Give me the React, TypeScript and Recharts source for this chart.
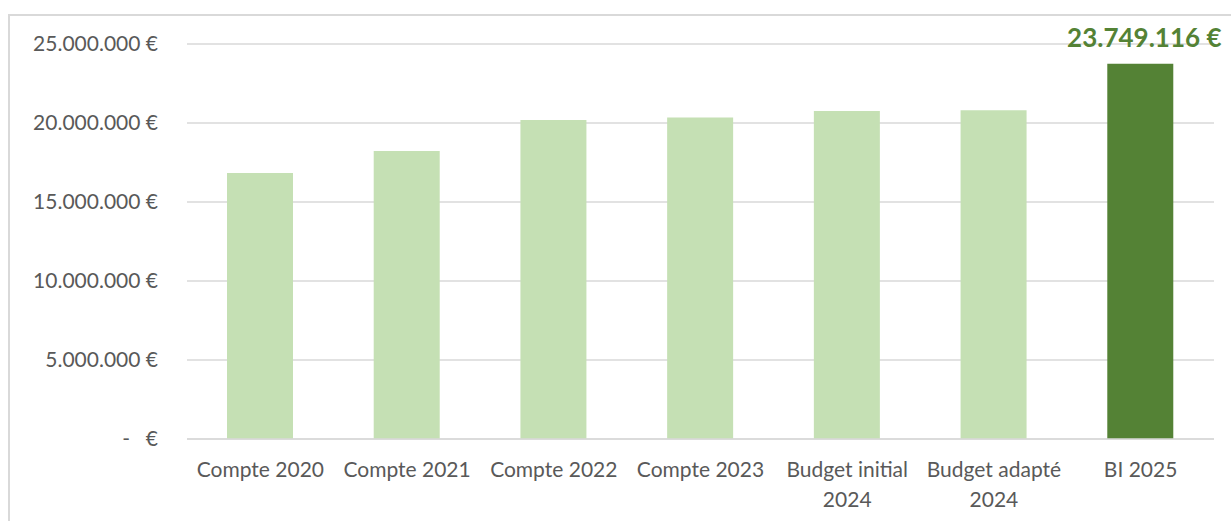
import React from "react";
import { BarChart, Bar, XAxis, YAxis, CartesianGrid, Cell, LabelList } from "recharts";

const categories = [
  "Compte 2020",
  "Compte 2021",
  "Compte 2022",
  "Compte 2023",
  "Budget initial 2024",
  "Budget adapté 2024",
  "BI 2025",
];
const values = [16830000, 18230000, 20190000, 20350000, 20760000, 20800000, 23749116];
const highlighted = [false, false, false, false, false, false, true];
const yTicks = [0, 5000000, 10000000, 15000000, 20000000, 25000000];

const LIGHT = "#C5E0B4";
const DARK = "#548235";
const GRID = "#d9d9d9";
const TEXT = "#595959";
const FONT = "Lato, 'Open Sans', sans-serif";

const data = categories.map((c, i) => ({ category: c, value: values[i], highlight: highlighted[i] }));

const fmtEuro = (v: number) => String(Math.round(v)).replace(/\B(?=(\d{3})+(?!\d))/g, ".") + " €";

const YTick = (props: any) => {
  const { x, y, payload } = props;
  if (payload.value === 0) {
    return (
      <g>
        <text x={x - 28} y={y} dy="0.35em" textAnchor="end" fill={TEXT} fontSize={21} fontFamily={FONT}>-</text>
        <text x={x} y={y} dy="0.35em" textAnchor="end" fill={TEXT} fontSize={21} fontFamily={FONT}>€</text>
      </g>
    );
  }
  return (
    <text x={x} y={y} dy="0.35em" textAnchor="end" fill={TEXT} fontSize={21} fontFamily={FONT}>
      {fmtEuro(payload.value)}
    </text>
  );
};

const splitLabel = (s: string): string[] => {
  if (s.length <= 12) return [s];
  const i = s.lastIndexOf(" ");
  return [s.slice(0, i), s.slice(i + 1)];
};

const XTick = (props: any) => {
  const { x, y, payload } = props;
  const lines = splitLabel(String(payload.value));
  return (
    <text x={x} y={y} textAnchor="middle" fill={TEXT} fontSize={21} fontFamily={FONT}>
      {lines.map((l, i) => (
        <tspan key={i} x={x} dy={i === 0 ? 38 : 30}>{l}</tspan>
      ))}
    </text>
  );
};

const TopLabel = (props: any) => {
  const { x, y, width, value, index } = props;
  if (!data[index] || !data[index].highlight) return null;
  return (
    <text x={x + width / 2 + 4} y={y - 17} textAnchor="middle" fill={DARK} fontSize={26} fontWeight={700} fontFamily={FONT}>
      {fmtEuro(value)}
    </text>
  );
};

export default function App() {
  return (
    <div style={{ position: "fixed", left: 0, top: 0, width: 1231, height: 521, overflow: "hidden", background: "#fff" }}>
      <div style={{ position: "absolute", left: 8, top: 14, width: 1300, height: 600, border: `2px solid ${GRID}`, boxSizing: "border-box" }} />
      <div style={{ position: "absolute", left: 0, top: 0 }}>
        <BarChart width={1231} height={521} data={data} margin={{ top: 44, right: 17, bottom: 0, left: 0 }}>
          <CartesianGrid vertical={false} stroke={GRID} strokeWidth={1.5} />
          <XAxis
            dataKey="category"
            height={82}
            interval={0}
            tick={<XTick />}
            tickLine={false}
            tickSize={0}
            tickMargin={0}
            axisLine={{ stroke: GRID, strokeWidth: 1.5 }}
          />
          <YAxis
            width={187}
            domain={[0, 25000000]}
            ticks={yTicks}
            tick={<YTick />}
            tickLine={false}
            tickSize={0}
            tickMargin={29}
            axisLine={false}
            interval={0}
          />
          <Bar dataKey="value" barSize={66} isAnimationActive={false}>
            {data.map((d, i) => (
              <Cell key={i} fill={d.highlight ? DARK : LIGHT} />
            ))}
            <LabelList dataKey="value" content={<TopLabel />} />
          </Bar>
        </BarChart>
      </div>
    </div>
  );
}
